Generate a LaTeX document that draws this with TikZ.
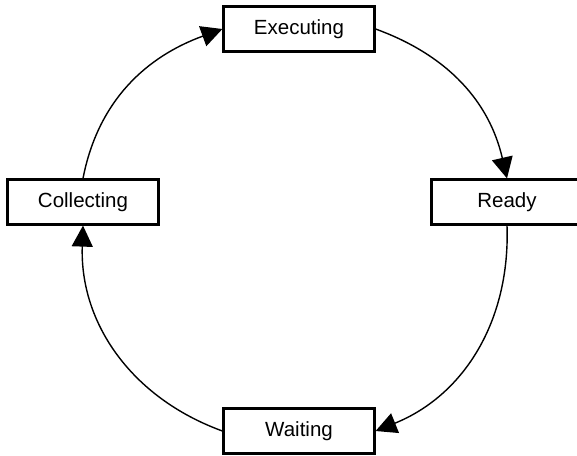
\documentclass[tikz,border=0pt]{standalone}
\usepackage{fontspec}
\setmainfont{Liberation Sans}
\usetikzlibrary{arrows.meta}

\begin{document}
\begin{tikzpicture}[x=1pt, y=-1pt,
    stagebox/.style={draw, line width=2.2pt, minimum width=151pt, minimum height=45pt,
                     inner sep=0pt, font=\fontsize{20.5}{24}\selectfont},
    cycle/.style={line width=1.4pt, -{Triangle[length=21pt, width=21pt]}}]
    \useasboundingbox (0, 0) rectangle (577, 455);

    % States
    \node[stagebox] (executing) at (299, 29) {Executing};
    \node[stagebox] (ready) at (507, 202) {Ready};
    \node[stagebox] (waiting) at (299, 431) {Waiting};
    \node[stagebox] (collecting) at (83, 202) {Collecting};

    % Cycle
    \draw[cycle] (collecting.north) to[out=79, in=200] (executing.west);
    \draw[cycle] (executing.east) to[out=-20, in=103] (ready.north);
    \draw[cycle] (ready.south) to[out=-88, in=22] (waiting.east);
    \draw[cycle] (waiting.west) to[out=160, in=-92] (collecting.south);
\end{tikzpicture}
\end{document}
